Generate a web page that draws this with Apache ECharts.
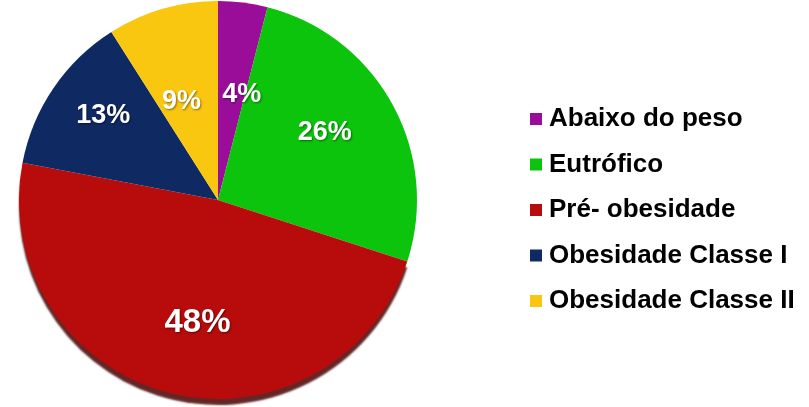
<!DOCTYPE html>
<html>
<head>
<meta charset="utf-8">
<script src="https://cdn.jsdelivr.net/npm/echarts@6/dist/echarts.min.js"></script>
<style>html,body{margin:0;padding:0;background:#fff;}#c{width:809px;height:407px;}</style>
</head>
<body>
<div id="c"></div>
<script>
const categories = ['Abaixo do peso', 'Eutrófico', 'Pré- obesidade', 'Obesidade Classe I', 'Obesidade Classe II'];
const values = [4, 26, 48, 13, 9];
const colors = ['#990d99', '#0bc40b', '#b80b0b', '#0f2962', '#f9c70f'];
const labelShift = [[11, -4], [17, -18], [5, 24], [-30, -27], [-8, 0]];

const chart = echarts.init(document.getElementById('c'), null, {renderer: 'canvas'});
const data = categories.map((name, i) => {
  const d = {name: name, value: values[i], itemStyle: {color: colors[i]}};
  if (i === 2) {
    d.label = {fontSize: 33};
    d.itemStyle.shadowColor = 'rgba(70,0,0,0.85)';
    d.itemStyle.shadowBlur = 2;
    d.itemStyle.shadowOffsetY = 6;
  }
  return d;
});
chart.setOption({
  animation: false,
  color: colors,
  legend: {
    orient: 'vertical',
    left: 525,
    top: 101,
    icon: 'rect',
    itemWidth: 12,
    itemHeight: 12,
    itemGap: 19.5,
    textStyle: {fontFamily: 'Liberation Sans, Arial, sans-serif', fontWeight: 'bold', fontSize: 26, color: '#000', padding: [0,0,0,2]},
    data: categories
  },
  series: [{
    type: 'pie',
    center: [218, 200],
    radius: 199,
    startAngle: 90,
    clockwise: true,
    silent: true,
    label: {
      show: true,
      position: 'inside',
      formatter: p => p.value + '%',
      color: '#fff',
      fontFamily: 'Liberation Sans, Arial, sans-serif',
      fontWeight: 'bold',
      fontSize: 27,
      textShadowColor: 'rgba(0,0,0,0.45)',
      textShadowBlur: 2,
      textShadowOffsetX: 1,
      textShadowOffsetY: 1
    },
    labelLayout: p => ({dx: labelShift[p.dataIndex][0], dy: labelShift[p.dataIndex][1]}),
    labelLine: {show: false},
    data: data
  }]
});
</script>
</body>
</html>
